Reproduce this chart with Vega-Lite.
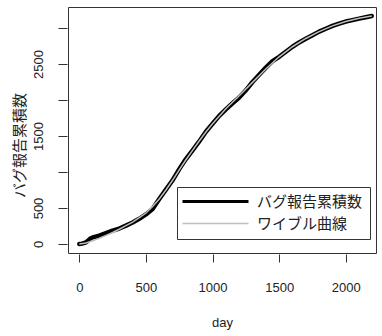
{
  "$schema": "https://vega.github.io/schema/vega-lite/v6.json",
  "width": 308,
  "height": 246,
  "autosize": "none",
  "padding": {"left": 68, "top": 7, "right": 6, "bottom": 83},
  "background": "white",
  "datasets": {
    "bug": [
      {"day": 0, "count": 0, "series": "バグ報告累積数"},
      {"day": 20, "count": 5, "series": "バグ報告累積数"},
      {"day": 50, "count": 22, "series": "バグ報告累積数"},
      {"day": 80, "count": 72, "series": "バグ報告累積数"},
      {"day": 100, "count": 92, "series": "バグ報告累積数"},
      {"day": 150, "count": 115, "series": "バグ報告累積数"},
      {"day": 200, "count": 150, "series": "バグ報告累積数"},
      {"day": 250, "count": 185, "series": "バグ報告累積数"},
      {"day": 300, "count": 215, "series": "バグ報告累積数"},
      {"day": 350, "count": 255, "series": "バグ報告累積数"},
      {"day": 400, "count": 300, "series": "バグ報告累積数"},
      {"day": 450, "count": 350, "series": "バグ報告累積数"},
      {"day": 500, "count": 410, "series": "バグ報告累積数"},
      {"day": 550, "count": 485, "series": "バグ報告累積数"},
      {"day": 600, "count": 625, "series": "バグ報告累積数"},
      {"day": 650, "count": 755, "series": "バグ報告累積数"},
      {"day": 700, "count": 885, "series": "バグ報告累積数"},
      {"day": 750, "count": 1040, "series": "バグ報告累積数"},
      {"day": 800, "count": 1180, "series": "バグ報告累積数"},
      {"day": 850, "count": 1300, "series": "バグ報告累積数"},
      {"day": 900, "count": 1425, "series": "バグ報告累積数"},
      {"day": 950, "count": 1560, "series": "バグ報告累積数"},
      {"day": 1000, "count": 1670, "series": "バグ報告累積数"},
      {"day": 1050, "count": 1780, "series": "バグ報告累積数"},
      {"day": 1100, "count": 1870, "series": "バグ報告累積数"},
      {"day": 1150, "count": 1955, "series": "バグ報告累積数"},
      {"day": 1200, "count": 2035, "series": "バグ報告累積数"},
      {"day": 1250, "count": 2135, "series": "バグ報告累積数"},
      {"day": 1300, "count": 2250, "series": "バグ報告累積数"},
      {"day": 1350, "count": 2350, "series": "バグ報告累積数"},
      {"day": 1400, "count": 2450, "series": "バグ報告累積数"},
      {"day": 1450, "count": 2540, "series": "バグ報告累積数"},
      {"day": 1500, "count": 2600, "series": "バグ報告累積数"},
      {"day": 1550, "count": 2670, "series": "バグ報告累積数"},
      {"day": 1600, "count": 2740, "series": "バグ報告累積数"},
      {"day": 1650, "count": 2800, "series": "バグ報告累積数"},
      {"day": 1700, "count": 2850, "series": "バグ報告累積数"},
      {"day": 1750, "count": 2900, "series": "バグ報告累積数"},
      {"day": 1800, "count": 2950, "series": "バグ報告累積数"},
      {"day": 1850, "count": 2990, "series": "バグ報告累積数"},
      {"day": 1900, "count": 3030, "series": "バグ報告累積数"},
      {"day": 1950, "count": 3060, "series": "バグ報告累積数"},
      {"day": 2000, "count": 3090, "series": "バグ報告累積数"},
      {"day": 2050, "count": 3110, "series": "バグ報告累積数"},
      {"day": 2100, "count": 3130, "series": "バグ報告累積数"},
      {"day": 2150, "count": 3150, "series": "バグ報告累積数"},
      {"day": 2195, "count": 3167, "series": "バグ報告累積数"}
    ],
    "weibull": [
      {"day": 0, "count": 0, "series": "ワイブル曲線"},
      {"day": 50, "count": 15, "series": "ワイブル曲線"},
      {"day": 100, "count": 45, "series": "ワイブル曲線"},
      {"day": 150, "count": 80, "series": "ワイブル曲線"},
      {"day": 200, "count": 120, "series": "ワイブル曲線"},
      {"day": 250, "count": 160, "series": "ワイブル曲線"},
      {"day": 300, "count": 205, "series": "ワイブル曲線"},
      {"day": 350, "count": 255, "series": "ワイブル曲線"},
      {"day": 400, "count": 305, "series": "ワイブル曲線"},
      {"day": 450, "count": 365, "series": "ワイブル曲線"},
      {"day": 500, "count": 430, "series": "ワイブル曲線"},
      {"day": 550, "count": 520, "series": "ワイブル曲線"},
      {"day": 600, "count": 625, "series": "ワイブル曲線"},
      {"day": 650, "count": 750, "series": "ワイブル曲線"},
      {"day": 700, "count": 885, "series": "ワイブル曲線"},
      {"day": 750, "count": 1030, "series": "ワイブル曲線"},
      {"day": 800, "count": 1170, "series": "ワイブル曲線"},
      {"day": 850, "count": 1300, "series": "ワイブル曲線"},
      {"day": 900, "count": 1430, "series": "ワイブル曲線"},
      {"day": 950, "count": 1555, "series": "ワイブル曲線"},
      {"day": 1000, "count": 1670, "series": "ワイブル曲線"},
      {"day": 1100, "count": 1880, "series": "ワイブル曲線"},
      {"day": 1200, "count": 2060, "series": "ワイブル曲線"},
      {"day": 1300, "count": 2245, "series": "ワイブル曲線"},
      {"day": 1400, "count": 2430, "series": "ワイブル曲線"},
      {"day": 1500, "count": 2600, "series": "ワイブル曲線"},
      {"day": 1600, "count": 2740, "series": "ワイブル曲線"},
      {"day": 1700, "count": 2855, "series": "ワイブル曲線"},
      {"day": 1800, "count": 2950, "series": "ワイブル曲線"},
      {"day": 1900, "count": 3030, "series": "ワイブル曲線"},
      {"day": 2000, "count": 3090, "series": "ワイブル曲線"},
      {"day": 2100, "count": 3135, "series": "ワイブル曲線"},
      {"day": 2195, "count": 3167, "series": "ワイブル曲線"}
    ]
  },
  "encoding": {
    "x": {
      "field": "day",
      "type": "quantitative",
      "scale": {"domain": [-85, 2227], "nice": false, "zero": false},
      "axis": {
        "title": "day",
        "values": [0, 500, 1000, 1500, 2000],
        "format": "d",
        "domain": false,
        "grid": false,
        "offset": 1,
        "tickSize": 8,
        "tickColor": "#333",
        "labelPadding": 29.5,
        "labelBaseline": "alphabetic",
        "labelFont": "Liberation Sans",
        "labelFontSize": 13,
        "labelColor": "#222",
        "labelFlush": false,
        "titleFont": "Liberation Sans",
        "titleFontSize": 13,
        "titleFontWeight": "normal",
        "titleColor": "#222",
        "titleBaseline": "alphabetic",
        "titleY": 72
      }
    },
    "y": {
      "field": "count",
      "type": "quantitative",
      "scale": {"domain": [-125, 3292], "nice": false, "zero": false},
      "axis": {
        "title": "バグ報告累積数",
        "values": [0, 500, 1000, 1500, 2000, 2500, 3000],
        "labelExpr": "(datum.value == 0 || datum.value == 500 || datum.value == 1500 || datum.value == 2500) ? datum.label : ''",
        "format": "d",
        "domain": false,
        "grid": false,
        "offset": 1,
        "tickSize": 9,
        "tickColor": "#333",
        "labelAngle": 270,
        "labelAlign": "center",
        "labelBaseline": "alphabetic",
        "labelPadding": 16,
        "labelFont": "Liberation Sans",
        "labelFontSize": 13,
        "labelColor": "#222",
        "labelFlush": false,
        "labelOverlap": false,
        "titleFont": "Noto Sans CJK JP",
        "titleFontSize": 15,
        "titleFontWeight": "normal",
        "titleColor": "#222",
        "titleAngle": 270,
        "titleAlign": "center",
        "titleBaseline": "middle",
        "titleX": -48,
        "titleY": 138
      }
    },
    "color": {
      "field": "series",
      "type": "nominal",
      "scale": {"domain": ["バグ報告累積数", "ワイブル曲線"], "range": ["black", "#bebebe"]},
      "legend": {
        "title": null,
        "orient": "none",
        "legendX": 109,
        "legendY": 180,
        "symbolType": "M-3,0H3",
        "symbolSize": 484,
        "symbolOffset": 24,
        "symbolStrokeWidth": 2.5,
        "rowPadding": 6,
        "padding": 7,
        "labelOffset": 34,
        "labelLimit": 0,
        "labelFont": "Noto Sans CJK JP",
        "labelFontSize": 15,
        "labelColor": "#222",
        "strokeColor": "#333",
        "fillColor": "white",
        "encode": {
          "symbols": {
            "update": {
              "strokeWidth": {"signal": "datum.value === 'バグ報告累積数' ? 3 : 1.5"}
            }
          }
        }
      }
    }
  },
  "layer": [
    {
      "data": {"name": "bug"},
      "mark": {"type": "line", "strokeWidth": 4.5, "strokeCap": "round", "strokeJoin": "round"}
    },
    {
      "data": {"name": "weibull"},
      "mark": {"type": "line", "strokeWidth": 1.5}
    }
  ],
  "config": {
    "view": {"stroke": "#333", "strokeWidth": 1}
  }
}
